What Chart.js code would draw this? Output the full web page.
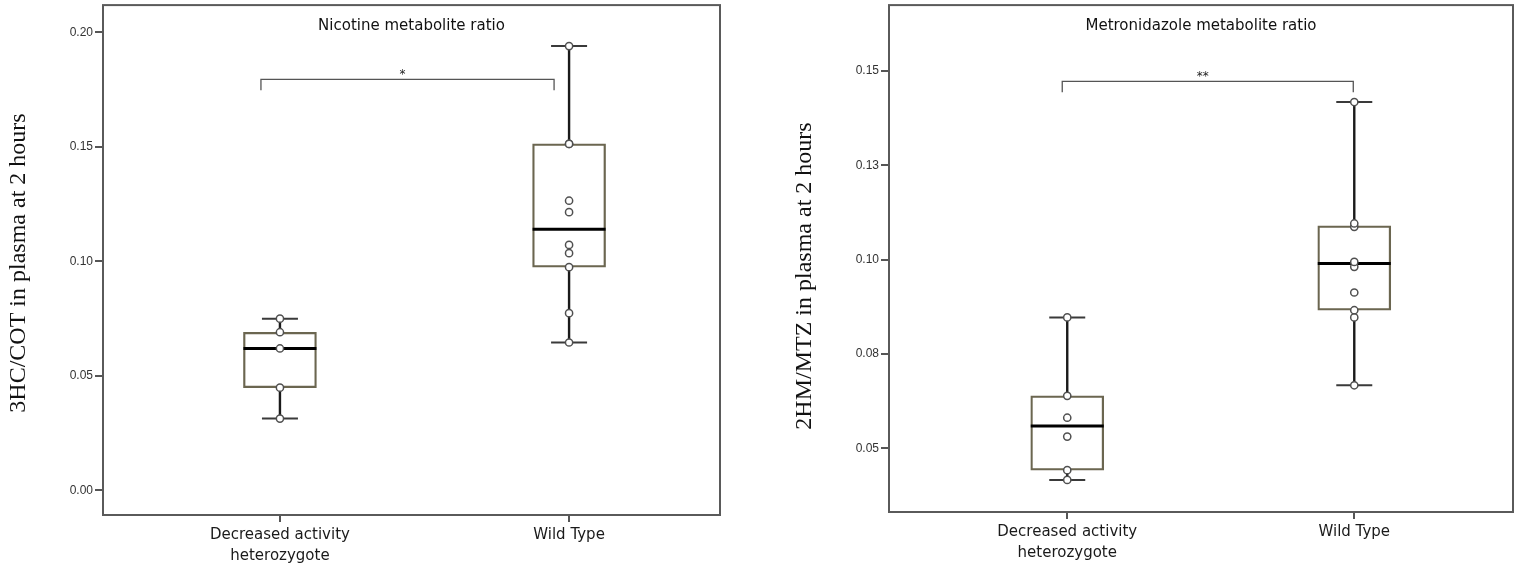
<!DOCTYPE html>
<html><head><meta charset="utf-8">
<script src="https://cdn.jsdelivr.net/npm/chart.js@4.4.1/dist/chart.umd.min.js"></script>
<style>
html,body{margin:0;padding:0;background:#fff;}
#wrap{position:relative;width:1525px;height:569px;overflow:hidden;}
canvas{position:absolute;top:0;}
#left{left:0;}
#right{left:775px;}
</style></head><body>
<div id="wrap">
<canvas id="left" width="770" height="569"></canvas>
<canvas id="right" width="750" height="569"></canvas>
</div>
<script>
// ---------- DATA ----------
const categories = [["Decreased activity", "heterozygote"], "Wild Type"];

// Panel 1: nicotine metabolite ratio
const nicTitle = "Nicotine metabolite ratio";
const nicYLabel = "3HC/COT in plasma at 2 hours";
const nicTickValues = [0.00, 0.05, 0.10, 0.15, 0.20];
const nicTickLabels = ["0.00", "0.05", "0.10", "0.15", "0.20"];
const nicMin    = [0.0314, 0.0646];
const nicQ1     = [0.0449, 0.0975];
const nicMedian = [0.0620, 0.1140];
const nicQ3     = [0.0691, 0.1513];
const nicMax    = [0.0750, 0.1940];
const nicPointsDecreased = [0.0314, 0.0449, 0.0620, 0.0691, 0.0750];
const nicPointsWild = [0.0646, 0.0774, 0.0975, 0.1036, 0.1072, 0.1215, 0.1265, 0.1513, 0.1513, 0.1940];
const nicSignif = "*";
const nicBracketLevel = 0.1795;

// Panel 2: metronidazole metabolite ratio
const mtzTitle = "Metronidazole metabolite ratio";
const mtzYLabel = "2HM/MTZ in plasma at 2 hours";
const mtzTickValues = [0.050, 0.075, 0.100, 0.125, 0.150];
const mtzTickLabels = ["0.05", "0.08", "0.10", "0.13", "0.15"];
const mtzMin    = [0.0416, 0.0667];
const mtzQ1     = [0.0442, 0.0866];
const mtzMedian = [0.0559, 0.0990];
const mtzQ3     = [0.0639, 0.1090];
const mtzMax    = [0.0847, 0.1418];
const mtzPointsDecreased = [0.0416, 0.0442, 0.0531, 0.0581, 0.0639, 0.0847];
const mtzPointsWild = [0.0667, 0.0847, 0.0866, 0.0913, 0.0981, 0.0994, 0.1087, 0.1096, 0.1418];
const mtzSignif = "**";
const mtzBracketLevel = 0.1473;

// ---------- RENDERING ----------
const sansFont = "'DejaVu Sans', sans-serif";
const serifFont = "'Liberation Serif', 'Times New Roman', serif";
const tickFont = "'Liberation Sans', Arial, sans-serif";

const boxPlugin = {
  id: 'boxw',
  beforeDatasetsDraw(chart, args, o) {
    const ctx = chart.ctx, xs = chart.scales.x, ys = chart.scales.y;
    ctx.save();
    o.min.forEach((mn, i) => {
      const cx = xs.getPixelForValue(i);
      const pMin = ys.getPixelForValue(mn), pQ1 = ys.getPixelForValue(o.q1[i]);
      const pQ3 = ys.getPixelForValue(o.q3[i]), pMax = ys.getPixelForValue(o.max[i]);
      ctx.strokeStyle = '#1a1a1a'; ctx.lineWidth = 2.4;
      ctx.beginPath();
      ctx.moveTo(cx, pQ3); ctx.lineTo(cx, pMax);
      ctx.moveTo(cx, pQ1); ctx.lineTo(cx, pMin);
      ctx.stroke();
      ctx.strokeStyle = '#3a3a3a'; ctx.lineWidth = 2;
      ctx.beginPath();
      ctx.moveTo(cx - 18, pMax); ctx.lineTo(cx + 18, pMax);
      ctx.moveTo(cx - 18, pMin); ctx.lineTo(cx + 18, pMin);
      ctx.stroke();
    });
    ctx.restore();
  },
  afterDatasetDraw(chart, args, o) {
    if (chart.data.datasets[args.index].type !== 'bar') return;
    const ctx = chart.ctx, ys = chart.scales.y;
    ctx.save();
    ctx.strokeStyle = '#000'; ctx.lineWidth = 3;
    args.meta.data.forEach((bar, i) => {
      const py = ys.getPixelForValue(o.med[i]);
      ctx.beginPath();
      ctx.moveTo(bar.x - bar.width / 2, py); ctx.lineTo(bar.x + bar.width / 2, py);
      ctx.stroke();
    });
    ctx.restore();
  },
  afterDraw(chart, args, o) {
    const ctx = chart.ctx, a = chart.chartArea, xs = chart.scales.x, ys = chart.scales.y;
    ctx.save();
    ctx.strokeStyle = '#5a5a5a'; ctx.lineWidth = 2;
    ctx.strokeRect(a.left, a.top, a.right - a.left, a.bottom - a.top);
    ctx.fillStyle = '#111'; ctx.font = "15px " + sansFont;
    ctx.textAlign = 'center'; ctx.textBaseline = 'middle';
    ctx.fillText(o.title, (a.left + a.right) / 2, a.top + 21);
    ctx.save();
    ctx.translate(o.yLabelX, o.yLabelY);
    ctx.rotate(-Math.PI / 2);
    ctx.font = "24px " + serifFont; ctx.fillStyle = '#111';
    ctx.fillText(o.yLabel, 0, 0);
    ctx.restore();
    const x1 = xs.getPixelForValue(0) + o.bx1, x2 = xs.getPixelForValue(1) + o.bx2;
    const yb = ys.getPixelForValue(o.level);
    ctx.strokeStyle = '#555'; ctx.lineWidth = 1.3;
    ctx.beginPath();
    ctx.moveTo(x1, yb + 11); ctx.lineTo(x1, yb); ctx.lineTo(x2, yb); ctx.lineTo(x2, yb + 11);
    ctx.stroke();
    ctx.font = "12px " + sansFont; ctx.fillStyle = '#222';
    ctx.fillText(o.signif, (x1 + x2) / 2 - 5, yb - 4);
    ctx.restore();
  }
};

function makeChart(id, cfg) {
  return new Chart(document.getElementById(id), {
    data: {
      datasets: [
        {
          type: 'scatter',
          order: 0,
          data: cfg.ptsA.map(v => ({x: 0, y: v})).concat(cfg.ptsB.map(v => ({x: 1, y: v}))),
          pointRadius: 3.6, pointBorderWidth: 1.5,
          pointBorderColor: '#505050', pointBackgroundColor: '#ffffff',
          pointHoverRadius: 3.6
        },
        {
          type: 'bar',
          order: 1,
          data: cfg.q1.map((q, i) => ({x: i, y: [q, cfg.q3[i]]})),
          barThickness: 73,
          backgroundColor: 'rgba(0,0,0,0)',
          borderColor: '#6b6650', borderWidth: 1.6, borderSkipped: false
        }
      ]
    },
    options: {
      responsive: false, animation: false,
      layout: {padding: {top: 5, left: 0, right: cfg.padRight, bottom: 0}},
      plugins: {
        legend: {display: false}, tooltip: {enabled: false},
        boxw: {
          min: cfg.min, q1: cfg.q1, med: cfg.med, q3: cfg.q3, max: cfg.max,
          title: cfg.title, yLabel: cfg.yLabel, yLabelX: cfg.yLabelX, yLabelY: cfg.yLabelY,
          level: cfg.level, signif: cfg.signif, bx1: cfg.bx1, bx2: cfg.bx2
        }
      },
      scales: {
        x: {
          type: 'linear', min: cfg.xMin, max: cfg.xMax, offset: false,
          afterBuildTicks: s => { s.ticks = [{value: 0}, {value: 1}]; },
          afterFit: s => { s.height = cfg.xHeight; s.paddingLeft = 0; s.paddingRight = 0; },
          grid: {offset: false, drawOnChartArea: false, drawTicks: true, tickLength: 7, color: '#555', lineWidth: 2},
          border: {display: false},
          ticks: {
            autoSkip: false, maxRotation: 0, padding: 3, color: '#1a1a1a',
            font: {family: sansFont, size: 15, lineHeight: 1.4},
            callback: (v, i) => categories[i]
          }
        },
        y: {
          type: 'linear', min: cfg.yMin, max: cfg.yMax,
          afterBuildTicks: s => { s.ticks = cfg.tickValues.map(v => ({value: v})); },
          afterFit: s => { s.width = cfg.yWidth; s.paddingTop = 0; s.paddingBottom = 0; },
          grid: {drawOnChartArea: false, drawTicks: true, tickLength: 8, color: '#555', lineWidth: 2},
          border: {display: false},
          ticks: {
            padding: 2, color: '#333',
            font: {family: tickFont, size: 12},
            callback: (v, i) => cfg.tickLabels[i]
          }
        }
      }
    },
    plugins: [boxPlugin]
  });
}

makeChart('left', {
  ptsA: nicPointsDecreased, ptsB: nicPointsWild,
  min: nicMin, q1: nicQ1, med: nicMedian, q3: nicQ3, max: nicMax,
  title: nicTitle, yLabel: nicYLabel, yLabelX: 19, yLabelY: 263,
  level: nicBracketLevel, signif: nicSignif, bx1: -19, bx2: -15,
  tickValues: nicTickValues, tickLabels: nicTickLabels,
  xMin: -0.612, xMax: 1.522, yMin: -0.0107, yMax: 0.2119,
  yWidth: 103, xHeight: 54, padRight: 50
});

makeChart('right', {
  ptsA: mtzPointsDecreased, ptsB: mtzPointsWild,
  min: mtzMin, q1: mtzQ1, med: mtzMedian, q3: mtzQ3, max: mtzMax,
  title: mtzTitle, yLabel: mtzYLabel, yLabelX: 30, yLabelY: 276,
  level: mtzBracketLevel, signif: mtzSignif, bx1: -5, bx2: -1,
  tickValues: mtzTickValues, tickLabels: mtzTickLabels,
  xMin: -0.621, xMax: 1.553, yMin: 0.0331, yMax: 0.1675,
  yWidth: 114, xHeight: 57, padRight: 12
});
</script>
</body></html>
